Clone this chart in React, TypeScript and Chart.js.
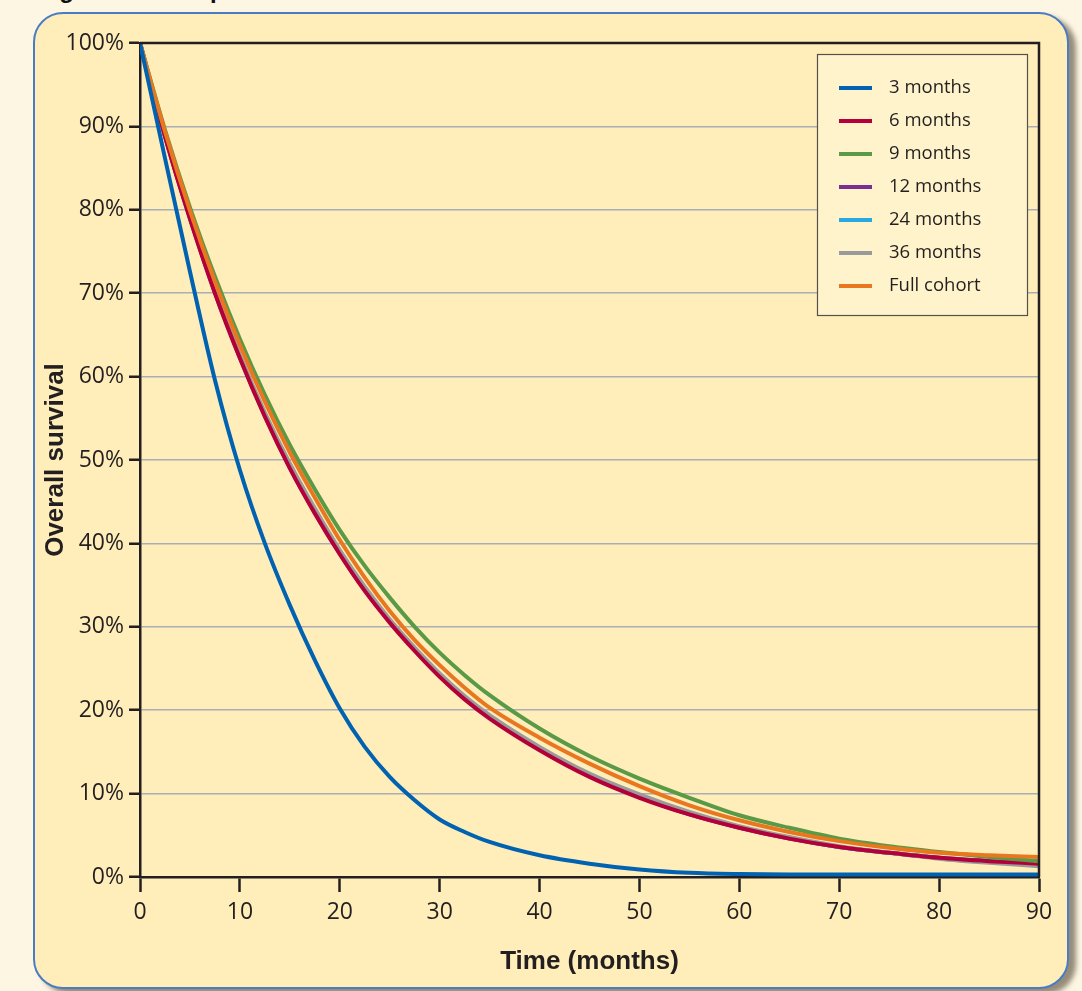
import React, { useEffect, useRef } from "react";
import { Chart, registerables } from "chart.js";

Chart.register(...registerables);

const months = [0, 2.5, 5, 7.5, 10, 12.5, 15, 17.5, 20, 22.5, 25, 27.5, 30, 32.5, 35, 40, 45, 50, 55, 60, 65, 70, 75, 80, 85, 90];

const seriesLabels = ["3 months", "6 months", "9 months", "12 months", "24 months", "36 months", "Full cohort"];

const s3 = [100, 86.2, 72.6, 59.6, 48.8, 40.0, 32.6, 26.0, 20.2, 15.6, 12.0, 9.2, 6.9, 5.4, 4.2, 2.6, 1.6, 0.9, 0.5, 0.35, 0.3, 0.3, 0.3, 0.3, 0.3, 0.3];
const s6 = [100, 88.8, 78.9, 70.0, 62.2, 55.2, 49.0, 43.6, 38.7, 34.3, 30.5, 27.1, 24.0, 21.3, 19.0, 15.2, 12.0, 9.5, 7.5, 5.9, 4.6, 3.6, 2.9, 2.3, 1.9, 1.6];
const s9 = [100, 89.6, 80.3, 72.0, 64.5, 57.8, 51.8, 46.5, 41.6, 37.3, 33.5, 30.0, 26.9, 24.2, 21.8, 17.8, 14.5, 11.8, 9.5, 7.4, 5.9, 4.6, 3.7, 3.0, 2.4, 1.9];
const s12 = [100, 88.8, 79.0, 70.1, 62.3, 55.3, 49.1, 43.7, 38.8, 34.4, 30.6, 27.2, 24.1, 21.4, 19.1, 15.3, 12.1, 9.6, 7.5, 5.9, 4.6, 3.6, 2.9, 2.3, 1.9, 1.5];
const s24 = [100, 88.9, 79.1, 70.2, 62.4, 55.5, 49.3, 43.9, 38.9, 34.5, 30.7, 27.3, 24.2, 21.5, 19.2, 15.4, 12.2, 9.7, 7.6, 6.0, 4.7, 3.6, 2.9, 2.3, 1.8, 1.5];
const s36 = [100, 88.9, 79.2, 70.4, 62.6, 55.7, 49.6, 44.2, 39.2, 34.8, 30.9, 27.5, 24.4, 21.7, 19.4, 15.6, 12.4, 9.9, 7.8, 6.1, 4.8, 3.7, 2.9, 2.2, 1.7, 1.3];
const sFull = [100, 89.4, 79.9, 71.4, 63.8, 57.0, 50.9, 45.5, 40.4, 35.9, 31.9, 28.4, 25.4, 22.7, 20.3, 16.7, 13.6, 10.9, 8.6, 6.8, 5.4, 4.3, 3.5, 2.9, 2.6, 2.4];

const seriesValues = [s3, s6, s9, s12, s24, s36, sFull];
const seriesColors = ["#0062B1", "#B3003B", "#5A9A46", "#7A2E92", "#27AAE1", "#9A9A9A", "#E8771F"];
const drawOrder = [0, 3, 2, 6, 5, 4, 1];

const yTicks = [0, 10, 20, 30, 40, 50, 60, 70, 80, 90, 100];
const xTicks = [0, 10, 20, 30, 40, 50, 60, 70, 80, 90];

const INK = "#231F20";

const framePlugin = {
  id: "frame",
  afterDatasetsDraw(chart: any) {
    const { ctx, chartArea } = chart;
    ctx.save();
    ctx.strokeStyle = INK;
    ctx.lineWidth = 2.5;
    ctx.beginPath();
    ctx.moveTo(chartArea.left, chartArea.top);
    ctx.lineTo(chartArea.right, chartArea.top);
    ctx.lineTo(chartArea.right, chartArea.bottom);
    ctx.stroke();
    ctx.restore();
  },
};

const legendPlugin = {
  id: "boxLegend",
  afterDraw(chart: any) {
    const { ctx, chartArea } = chart;
    const w = 210;
    const h = 261;
    const x = chartArea.right - 12 - w;
    const y = chartArea.top + 11;
    ctx.save();
    ctx.fillStyle = "#FFF3CB";
    ctx.fillRect(x, y, w, h);
    ctx.strokeStyle = "#555049";
    ctx.lineWidth = 1.2;
    ctx.strokeRect(x + 0.5, y + 0.5, w, h);
    ctx.font = "18.5px 'Open Sans'";
    ctx.textBaseline = "middle";
    chart.data.datasets.forEach((ds: any, i: number) => {
      const cy = y + 34 + i * 33;
      ctx.strokeStyle = ds.borderColor;
      ctx.lineWidth = 4;
      ctx.beginPath();
      ctx.moveTo(x + 22, cy);
      ctx.lineTo(x + 55, cy);
      ctx.stroke();
      ctx.fillStyle = INK;
      ctx.fillText(ds.label, x + 72, cy);
    });
    ctx.restore();
  },
};

export default function App() {
  const ref = useRef<HTMLCanvasElement>(null);

  useEffect(() => {
    if (!ref.current) return;
    const datasets = seriesLabels.map((label, i) => ({
      label,
      data: months.map((m, j) => ({ x: m, y: seriesValues[i][j] })),
      borderColor: seriesColors[i],
      backgroundColor: seriesColors[i],
      borderWidth: 4,
      pointRadius: 0,
      fill: false,
      cubicInterpolationMode: "monotone" as const,
      order: drawOrder[i],
    }));
    const chart = new Chart(ref.current, {
      type: "line",
      data: { datasets },
      plugins: [framePlugin, legendPlugin],
      options: {
        animation: false,
        responsive: false,
        devicePixelRatio: 1,
        layout: { padding: { left: 0, top: 43, right: 43, bottom: 0 } },
        plugins: { legend: { display: false }, tooltip: { enabled: false } },
        scales: {
          x: {
            type: "linear",
            min: 0,
            max: 90,
            afterFit: (s: any) => { s.height = 114; },
            afterBuildTicks: (s: any) => { s.ticks = xTicks.map((v) => ({ value: v })); },
            ticks: { color: INK, font: { family: "'Open Sans'", size: 23 }, padding: 7, maxRotation: 0 },
            grid: { drawOnChartArea: false, tickColor: INK, tickLength: 15, tickWidth: 2.5 },
            border: { color: INK, width: 2.5 },
            title: {
              display: true,
              text: "Time (months)",
              color: INK,
              font: { family: "'Liberation Sans'", size: 26, weight: "bold" },
              padding: { top: 0, bottom: 14 },
            },
          },
          y: {
            min: 0,
            max: 100,
            afterFit: (s: any) => { s.width = 140; },
            afterBuildTicks: (s: any) => { s.ticks = yTicks.map((v) => ({ value: v })); },
            ticks: { color: INK, font: { family: "'Open Sans'", size: 23 }, padding: 5, callback: (v: any) => v + "%" },
            grid: { color: "#A9AEB4", lineWidth: 1.5, tickColor: INK, tickLength: 11, tickWidth: 2.5 },
            border: { color: INK, width: 2.5 },
            title: {
              display: true,
              text: "Overall survival",
              color: INK,
              font: { family: "'Liberation Sans'", size: 26, weight: "bold" },
              padding: { top: 40, bottom: 0 },
            },
          },
        },
      },
    });
    return () => chart.destroy();
  }, []);

  return (
    <div style={{ position: "absolute", left: 0, top: 0, width: 1082, height: 991, overflow: "hidden", background: "#FDF6E3" }}>
      <div
        style={{
          position: "absolute",
          left: 38,
          top: -22,
          fontFamily: "'Liberation Sans', Arial, sans-serif",
          fontWeight: "bold",
          fontSize: 24,
          lineHeight: "24px",
          color: "#111",
          whiteSpace: "nowrap",
        }}
      >
        Figure 11. Comparison of overall survival
      </div>
      <div
        style={{
          position: "absolute",
          left: 33,
          top: 12,
          width: 1036,
          height: 977,
          boxSizing: "border-box",
          border: "2.5px solid #4A7BC5",
          borderRadius: 30,
          background: "#FFEDBA",
          boxShadow: "7px 5px 5px rgba(80,70,50,0.6)",
        }}
      />
      <canvas ref={ref} width={1082} height={991} style={{ position: "absolute", left: 0, top: 0, display: "block" }} />
    </div>
  );
}
